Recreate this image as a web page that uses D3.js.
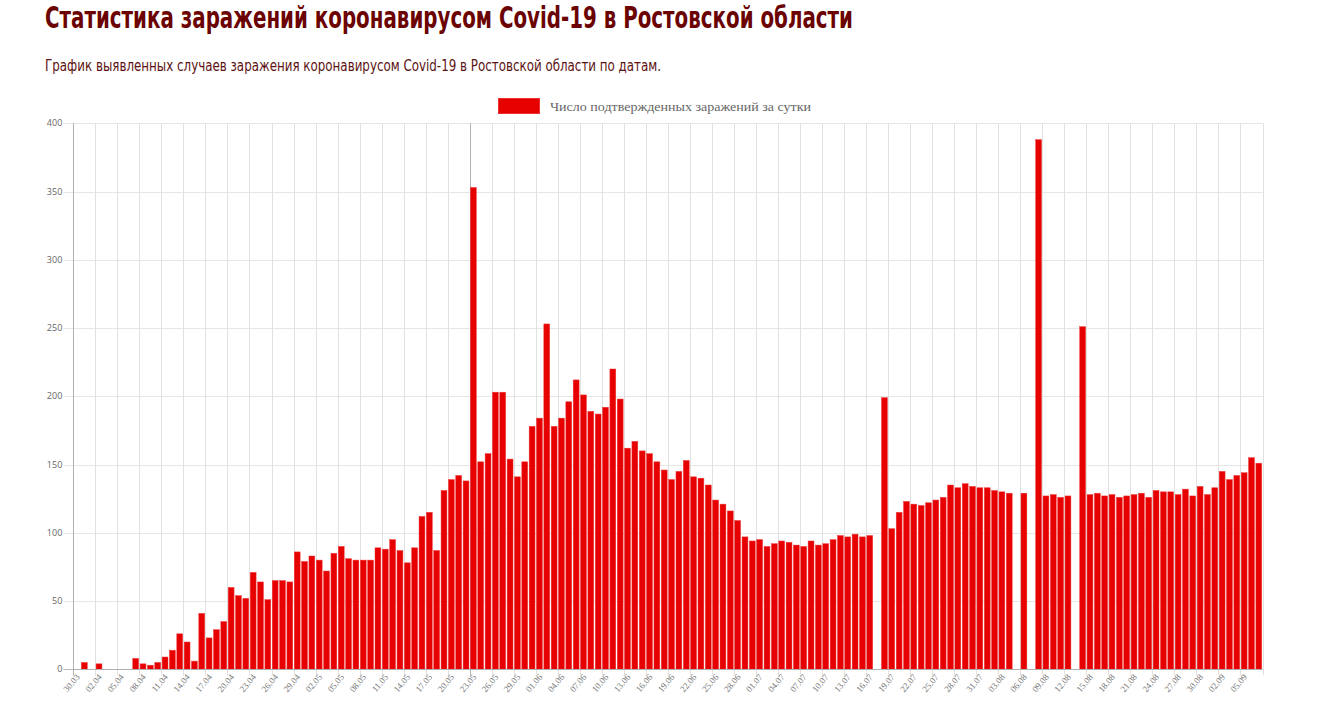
<!DOCTYPE html>
<html>
<head>
<meta charset="utf-8">
<script src="https://cdn.jsdelivr.net/npm/d3@7"></script>
<style>
  html, body { margin: 0; padding: 0; background: #fff; }
  svg { display: block; }
</style>
</head>
<body>
<svg id="chart" width="1328" height="708"></svg>
<script>
const titleText = "Статистика заражений коронавирусом Covid-19 в Ростовской области";
const subtitleText = "График выявленных случаев заражения коронавирусом Covid-19 в Ростовской области по датам.";
const seriesName = "Число подтвержденных заражений за сутки";

const dates = [
  "30.03","31.03",
  "01.04","02.04","03.04","04.04","05.04","06.04","07.04","08.04","09.04","10.04",
  "11.04","12.04","13.04","14.04","15.04","16.04","17.04","18.04","19.04","20.04",
  "21.04","22.04","23.04","24.04","25.04","26.04","27.04","28.04","29.04","30.04",
  "01.05","02.05","03.05","04.05","05.05","06.05","07.05","08.05","09.05","10.05",
  "11.05","12.05","13.05","14.05","15.05","16.05","17.05","18.05","19.05","20.05",
  "21.05","22.05","23.05","24.05","25.05","26.05","27.05","28.05","29.05","30.05","31.05",
  "01.06","02.06","03.06","04.06","05.06","06.06","07.06","08.06","09.06","10.06",
  "11.06","12.06","13.06","14.06","15.06","16.06","17.06","18.06","19.06","20.06",
  "21.06","22.06","23.06","24.06","25.06","26.06","27.06","28.06","29.06","30.06",
  "01.07","02.07","03.07","04.07","05.07","06.07","07.07","08.07","09.07","10.07",
  "11.07","12.07","13.07","14.07","15.07","16.07","17.07","18.07","19.07","20.07",
  "21.07","22.07","23.07","24.07","25.07","26.07","27.07","28.07","29.07","30.07","31.07",
  "01.08","02.08","03.08","04.08","05.08","06.08","07.08","08.08","09.08","10.08",
  "11.08","12.08","13.08","14.08","15.08","16.08","17.08","18.08","19.08","20.08",
  "21.08","22.08","23.08","24.08","25.08","26.08","27.08","28.08","29.08","30.08","31.08",
  "01.09","02.09","03.09","04.09","05.09","06.09","07.09"
];

const cases = [
  0,5,0,4,0,0,0,0,8,4,
  3,5,9,14,26,20,6,41,23,29,
  35,60,54,52,71,64,51,65,65,64,
  86,79,83,80,72,85,90,81,80,80,
  80,89,88,95,87,78,89,112,115,87,
  131,139,142,138,353,152,158,203,203,154,
  141,152,178,184,253,178,184,196,212,201,
  189,187,192,220,198,162,167,160,158,152,
  146,139,145,153,141,140,135,124,121,116,
  109,97,94,95,90,92,94,93,91,90,
  94,91,92,95,98,97,99,97,98,null,
  199,103,115,123,121,120,122,124,126,135,
  133,136,134,133,133,131,130,129,null,129,
  null,388,127,128,126,127,null,251,128,129,
  127,128,126,127,128,129,126,131,130,130,
  128,132,127,134,128,133,145,139,142,144,
  155,151
];

const yTicks = [0, 50, 100, 150, 200, 250, 300, 350, 400];
const highlightDate = "23.05";

const svg = d3.select("#chart");
const plotLeft = 73.3, plotRight = 1262.5, plotTop = 123.3, plotBottom = 669.3;

const x = d3.scaleBand().domain(dates).range([plotLeft, plotRight]).paddingInner(0).paddingOuter(0);
const y = d3.scaleLinear().domain([0, 400]).range([plotBottom, plotTop]);

// Title & subtitle
svg.append("text")
  .attr("x", 45).attr("y", 28)
  .attr("font-family", "'Liberation Sans Narrow','DejaVu Sans Condensed','Roboto',sans-serif")
  .attr("font-weight", "bold").attr("font-size", 31)
  .attr("fill", "#6b0303")
  .attr("textLength", 808).attr("lengthAdjust", "spacingAndGlyphs")
  .text(titleText);

svg.append("text")
  .attr("x", 45).attr("y", 71)
  .attr("font-family", "'Liberation Sans Narrow','DejaVu Sans Condensed','Roboto',sans-serif")
  .attr("font-size", 16)
  .attr("fill", "#5c1212")
  .attr("textLength", 616).attr("lengthAdjust", "spacingAndGlyphs")
  .text(subtitleText);

// Legend
svg.append("rect")
  .attr("x", 498.5).attr("y", 98.5).attr("width", 41).attr("height", 15)
  .attr("fill", "#e60000").attr("stroke", "#ee3030").attr("stroke-width", 1);
svg.append("text")
  .attr("x", 550).attr("y", 110.5)
  .attr("font-family", "'Liberation Serif','DejaVu Serif',serif")
  .attr("font-size", 13.5).attr("fill", "#666")
  .attr("textLength", 261).attr("lengthAdjust", "spacingAndGlyphs")
  .text(seriesName);

// Horizontal grid + y ticks
const gY = svg.append("g");
yTicks.forEach(t => {
  gY.append("line")
    .attr("x1", plotLeft - 10).attr("x2", plotRight)
    .attr("y1", Math.round(y(t)) + 0.5).attr("y2", Math.round(y(t)) + 0.5)
    .attr("stroke", t === 0 ? "#b8b8b8" : "#e6e6e6").attr("stroke-width", 1);
  gY.append("text")
    .attr("x", plotLeft - 11).attr("y", y(t) + 3)
    .attr("text-anchor", "end")
    .attr("font-family", "'Open Sans','DejaVu Sans',sans-serif")
    .attr("font-size", 9).attr("fill", "#666")
    .text(t);
});

// Vertical grid lines every 3rd category + right edge
const gX = svg.append("g");
const gridDates = dates.filter((d, i) => i % 3 === 0);
gridDates.forEach(d => {
  const gx = Math.round(x(d)) + 0.5;
  gX.append("line")
    .attr("x1", gx).attr("x2", gx)
    .attr("y1", plotTop).attr("y2", plotBottom + 6)
    .attr("stroke", d === highlightDate ? "#b3b3b3" : "#e1e1e1").attr("stroke-width", 1);
});
gX.append("line")
  .attr("x1", Math.round(plotRight) + 0.5).attr("x2", Math.round(plotRight) + 0.5)
  .attr("y1", plotTop).attr("y2", plotBottom + 6)
  .attr("stroke", "#e1e1e1");

// Left axis line
svg.append("line")
  .attr("x1", Math.round(plotLeft) + 0.5).attr("x2", Math.round(plotLeft) + 0.5)
  .attr("y1", plotTop).attr("y2", plotBottom + 6)
  .attr("stroke", "#b0b0b0");

// Bars
const bw = x.bandwidth() * 0.8;
svg.append("g").selectAll("rect")
  .data(dates.map((d, i) => ({ d, v: cases[i] })).filter(o => o.v))
  .join("rect")
  .attr("x", o => x(o.d) + (x.bandwidth() - bw) / 2)
  .attr("width", bw)
  .attr("y", o => y(o.v))
  .attr("height", o => y(0) - y(o.v))
  .attr("fill", "#e60000")
  .attr("stroke", "#f03a3a").attr("stroke-width", 0.5);

// Baseline redraw
svg.append("line")
  .attr("x1", plotLeft).attr("x2", plotRight)
  .attr("y1", Math.round(y(0)) + 0.5).attr("y2", Math.round(y(0)) + 0.5)
  .attr("stroke", "#b0b0b0");

// X labels
const gL = svg.append("g");
gridDates.forEach(d => {
  const cx = x(d) + x.bandwidth() / 2;
  gL.append("text")
    .attr("transform", `translate(${cx + 1},${plotBottom + 6}) rotate(-50)`)
    .attr("text-anchor", "end")
    .attr("dy", "0.35em")
    .attr("font-family", "'Liberation Serif','DejaVu Serif',serif")
    .attr("font-size", 9).attr("fill", "#777")
    .text(d);
});
</script>
</body>
</html>
